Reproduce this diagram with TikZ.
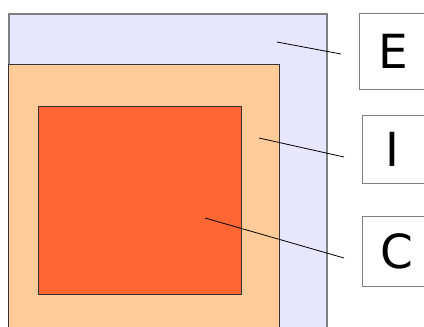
\documentclass[tikz,border=0pt]{standalone}
\usepackage{fontspec}
\setmainfont{DejaVu Sans}
\definecolor{lav}{HTML}{E6E6FF}
\definecolor{lorange}{HTML}{FFCC99}
\definecolor{rorange}{HTML}{FF6633}
\definecolor{edgegray}{HTML}{808080}
\begin{document}
\begin{tikzpicture}[x=1pt,y=-1pt,
  layer/.style={draw, rectangle, inner sep=0pt, anchor=north west},
  labelbox/.style={draw=edgegray, line width=1pt, fill=white, rectangle, inner sep=0pt, anchor=north west},
  labeltext/.style={inner sep=0pt, font=\fontsize{47}{50}\selectfont},
  leader/.style={draw=black, line width=0.8pt}]
\useasboundingbox (0,0) rectangle (424,327);
\clip (0,0) rectangle (424,327);
\node[layer, draw=edgegray, line width=1.5pt, fill=lav, minimum width=318pt, minimum height=340pt] (outer) at (8,13) {};
\node[layer, draw=black!80, line width=1pt, fill=lorange, minimum width=271pt, minimum height=290pt] (mid) at (8,64) {};
\node[layer, draw=black!80, line width=1pt, fill=rorange, minimum width=203pt, minimum height=188pt] (core) at (38,106) {};
\node[labelbox, minimum width=70pt, minimum height=76pt] (E) at (359,13) {};
\node[labeltext] (Etext) at ([xshift=-1pt]E.center) {E};
\node[labelbox, minimum width=66pt, minimum height=68pt] (I) at (362,115) {};
\node[labeltext] (Itext) at ([xshift=-3pt]I.center) {I};
\node[labelbox, minimum width=66pt, minimum height=70pt] (C) at (362,216) {};
\node[labeltext] (Ctext) at ([xshift=1pt]C.center) {C};
\coordinate (e1) at (277,42);
\coordinate (e2) at (341,54);
\coordinate (i1) at (259,138);
\coordinate (i2) at (344,157);
\coordinate (c1) at (205,218);
\coordinate (c2) at (344,258);
\draw[leader] (e1) -- (e2);
\draw[leader] (i1) -- (i2);
\draw[leader] (c1) -- (c2);
\end{tikzpicture}
\end{document}
